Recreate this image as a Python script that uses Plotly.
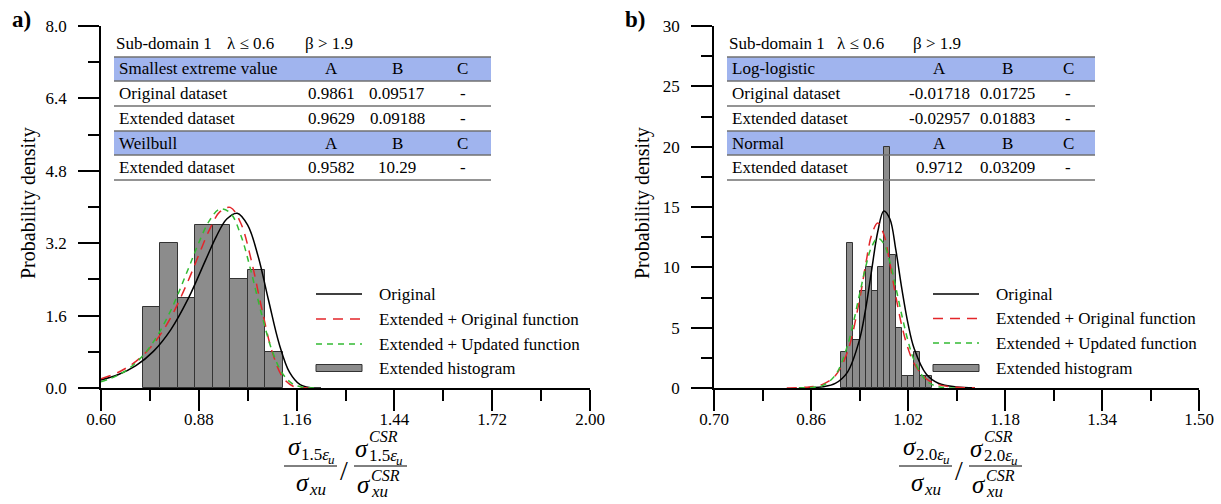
import plotly.graph_objects as go

W, H = 1221, 504
FONT = "Liberation Serif"

# ---------------- Panel a data ----------------
a_bin_centers = [0.745, 0.795, 0.845, 0.895, 0.945, 0.995, 1.045, 1.095]
a_bin_width = 0.05
a_hist_density = [1.8, 3.2, 2.0, 3.6, 3.6, 2.4, 2.6, 0.8]

a_orig_x = [0.60, 0.65, 0.70, 0.75, 0.80, 0.85, 0.90, 0.93, 0.96, 0.99, 1.02, 1.05, 1.08, 1.11, 1.14, 1.17, 1.20, 1.23]
a_orig_y = [0.179, 0.299, 0.495, 0.809, 1.291, 1.979, 2.837, 3.347, 3.735, 3.862, 3.598, 2.906, 1.928, 0.978, 0.343, 0.073, 0.008, 0.0]

a_extorig_x = [0.60, 0.65, 0.70, 0.75, 0.80, 0.85, 0.88, 0.91, 0.94, 0.97, 1.00, 1.03, 1.06, 1.09, 1.12, 1.15, 1.18, 1.21]
a_extorig_y = [0.206, 0.349, 0.588, 0.972, 1.560, 2.377, 2.943, 3.488, 3.891, 3.992, 3.646, 2.833, 1.763, 0.804, 0.239, 0.039, 0.003, 0.0]

a_extupd_x = [0.60, 0.65, 0.70, 0.75, 0.80, 0.85, 0.88, 0.91, 0.94, 0.97, 1.00, 1.03, 1.06, 1.09, 1.12, 1.15, 1.18, 1.21]
a_extupd_y = [0.138, 0.287, 0.558, 1.018, 1.718, 2.636, 3.211, 3.693, 3.954, 3.870, 3.383, 2.565, 1.625, 0.823, 0.314, 0.085, 0.015, 0.001]

a_xticks = [0.60, 0.88, 1.16, 1.44, 1.72, 2.00]
a_xminor = [0.74, 1.02, 1.30, 1.58, 1.86]
a_yticks = [0.0, 1.6, 3.2, 4.8, 6.4, 8.0]
a_yminor = [0.8, 2.4, 4.0, 5.6, 7.2]

a_table_title = ["Sub-domain 1", "λ ≤ 0.6", "β > 1.9"]
a_table_rows = [
    ["Smallest extreme value", "A", "B", "C"],
    ["Original dataset", "0.9861", "0.09517", "-"],
    ["Extended dataset", "0.9629", "0.09188", "-"],
    ["Weilbull", "A", "B", "C"],
    ["Extended dataset", "0.9582", "10.29", "-"],
]

# ---------------- Panel b data ----------------
b_bin_centers = [0.915, 0.925, 0.935, 0.945, 0.955, 0.965, 0.975, 0.985, 0.995, 1.005, 1.015, 1.025, 1.035, 1.045, 1.055]
b_bin_width = 0.01
b_hist_density = [3, 12, 4, 8, 10, 8, 10, 20, 11, 5, 1, 1, 3, 1, 1]

b_orig_x = [0.84, 0.86, 0.88, 0.90, 0.92, 0.94, 0.95, 0.96, 0.97, 0.98, 0.99, 1.00, 1.01, 1.02, 1.03, 1.05, 1.07, 1.10, 1.13]
b_orig_y = [0.005, 0.03, 0.107, 0.383, 1.301, 4.000, 6.518, 9.755, 12.929, 14.676, 14.031, 11.419, 8.167, 5.337, 3.293, 1.155, 0.390, 0.077, 0.016]

b_extorig_x = [0.82, 0.85, 0.88, 0.90, 0.92, 0.94, 0.95, 0.96, 0.97, 0.98, 0.99, 1.00, 1.01, 1.02, 1.03, 1.05, 1.07, 1.10, 1.13]
b_extorig_y = [0.008, 0.054, 0.323, 1.017, 2.963, 7.298, 10.192, 12.679, 13.679, 12.742, 10.367, 7.569, 5.116, 3.288, 2.050, 0.764, 0.281, 0.063, 0.015]

b_extupd_x = [0.84, 0.86, 0.88, 0.90, 0.92, 0.94, 0.95, 0.96, 0.97, 0.98, 0.99, 1.00, 1.01, 1.02, 1.03, 1.05, 1.07, 1.10]
b_extupd_y = [0.004, 0.04, 0.219, 1.061, 3.482, 7.749, 9.995, 11.697, 12.423, 11.973, 10.472, 8.311, 5.986, 3.912, 2.320, 0.610, 0.109, 0.004]

b_xticks = [0.70, 0.86, 1.02, 1.18, 1.34, 1.50]
b_xminor = [0.78, 0.94, 1.10, 1.26, 1.42]
b_yticks = [0, 5, 10, 15, 20, 25, 30]
b_yminor = [2.5, 7.5, 12.5, 17.5, 22.5, 27.5]

b_table_title = ["Sub-domain 1", "λ ≤ 0.6", "β > 1.9"]
b_table_rows = [
    ["Log-logistic", "A", "B", "C"],
    ["Original dataset", "-0.01718", "0.01725", "-"],
    ["Extended dataset", "-0.02957", "0.01883", "-"],
    ["Normal", "A", "B", "C"],
    ["Extended dataset", "0.9712", "0.03209", "-"],
]

legend_labels = ["Original", "Extended + Original function", "Extended + Updated function", "Extended histogram"]

# ---------------- styles ----------------
BAR_FILL = "#8c8c8c"
BAR_EDGE = "#333333"
C_ORIG = "black"
C_RED = "#e3262a"
C_GREEN = "#33bb33"
DASH_RED = "10px,7px"
DASH_GREEN = "6px,5px"
BLUE = "#a0b4ee"
RULE = "#707070"


def px(x):
    return x / W


def py(y):
    return 1 - y / H


fig = go.Figure()

panels = [
    dict(xa="x", ya="y", centers=a_bin_centers, bw=a_bin_width, dens=a_hist_density,
         curves=[(a_orig_x, a_orig_y), (a_extorig_x, a_extorig_y), (a_extupd_x, a_extupd_y)]),
    dict(xa="x2", ya="y2", centers=b_bin_centers, bw=b_bin_width, dens=b_hist_density,
         curves=[(b_orig_x, b_orig_y), (b_extorig_x, b_extorig_y), (b_extupd_x, b_extupd_y)]),
]

for p in panels:
    fig.add_trace(go.Bar(x=p["centers"], y=p["dens"], width=p["bw"], xaxis=p["xa"], yaxis=p["ya"],
                         marker=dict(color=BAR_FILL, line=dict(color=BAR_EDGE, width=1)),
                         name=legend_labels[3], showlegend=False))
    styles = [dict(color=C_ORIG, width=1.5),
              dict(color=C_RED, width=1.5, dash=DASH_RED),
              dict(color=C_GREEN, width=1.5, dash=DASH_GREEN)]
    for (cx, cy), st, nm in zip(p["curves"], styles, legend_labels[:3]):
        fig.add_trace(go.Scatter(x=cx, y=cy, mode="lines", line=dict(shape="spline", smoothing=1.0, **st),
                                 xaxis=p["xa"], yaxis=p["ya"], name=nm, showlegend=False))

tickfont = dict(family=FONT, size=17, color="black")


def axis_cfg(rng, ticks, minor, fmt, standoff):
    return dict(range=rng, tickmode="array", tickvals=ticks,
                ticktext=[format(t, fmt) for t in ticks],
                ticks="outside", ticklen=21, tickwidth=1.5, tickcolor="black",
                showline=True, linecolor="black", linewidth=1.5, showgrid=False, zeroline=False,
                tickfont=tickfont, ticklabelstandoff=standoff, automargin=False,
                minor=dict(tickmode="array", tickvals=minor, ticks="outside", ticklen=11,
                           tickwidth=1.5, tickcolor="black", showgrid=False))


ydom = [py(388), py(26)]
fig.update_layout(
    width=W, height=H, margin=dict(l=0, r=0, t=0, b=0, autoexpand=False),
    paper_bgcolor="white", plot_bgcolor="white", showlegend=False, bargap=0,
    font=dict(family=FONT, size=17, color="black"),
    xaxis=dict(anchor="y", domain=[px(101), px(590)], **axis_cfg([0.60, 2.00], a_xticks, a_xminor, ".2f", -6)),
    yaxis=dict(anchor="x", domain=ydom, **axis_cfg([0, 8.0], a_yticks, a_yminor, ".1f", 8)),
    xaxis2=dict(anchor="y2", domain=[px(714), px(1199)], **axis_cfg([0.70, 1.50], b_xticks, b_xminor, ".2f", -6)),
    yaxis2=dict(anchor="x2", domain=ydom, **axis_cfg([0, 30], b_yticks, b_yminor, "d", 8)),
)

annotations = []
shapes = []


def text(x, y, s, size=17, anchor="left", **kw):
    annotations.append(dict(x=px(x), y=py(y), xref="paper", yref="paper", text=s, showarrow=False,
                            xanchor=anchor, yanchor="middle", borderpad=0,
                            font=dict(family=FONT, size=size, color="black"), **kw))


def hline(x0, x1, y, color, width, dash=None):
    ln = dict(color=color, width=width)
    if dash:
        ln["dash"] = dash
    shapes.append(dict(type="line", xref="paper", yref="paper", x0=px(x0), x1=px(x1), y0=py(y), y1=py(y),
                       line=ln))


# panel tags and y titles
for off, tag in [(0, "a)"), (614, "b)")]:
    text(21 + off, 20, "<b>%s</b>" % tag, size=23, anchor="center")
    text(28 + off, 203, "Probability density", size=20, anchor="center", textangle=-90)


# tables
def table(x0, x1, title, rows, title_x, label_x, col_x):
    row_y = [57, 81, 106, 131, 155, 180]
    for i, r in enumerate(rows):
        top, bot = row_y[i], row_y[i + 1]
        if r[1] == "A":
            shapes.append(dict(type="rect", xref="paper", yref="paper", x0=px(x0), x1=px(x1),
                               y0=py(bot), y1=py(top), fillcolor=BLUE, line=dict(width=0), layer="below"))
        yc = (top + bot) / 2
        text(label_x, yc, r[0])
        for cx, s in zip(col_x, r[1:]):
            text(cx, yc, s, anchor="center")
    for y in row_y:
        hline(x0, x1, y, RULE, 1.5)
    for tx, s in zip(title_x, title):
        text(tx, 43, s)


table(114, 491, a_table_title, a_table_rows, [115, 226, 304], 118, [331, 397, 463])
table(727, 1095, b_table_title, b_table_rows, [728, 836, 912], 731, [939, 1008, 1068])

# legends
for lx0, tx, rows in [(316, 378, [294, 319, 344, 368]), (933, 995, [294, 318.5, 343, 368])]:
    lx1 = lx0 + 46
    hline(lx0, lx1, rows[0], C_ORIG, 1.5)
    hline(lx0, lx1, rows[1], C_RED, 1.5, DASH_RED)
    hline(lx0, lx1, rows[2], C_GREEN, 1.5, DASH_GREEN)
    shapes.append(dict(type="rect", xref="paper", yref="paper", x0=px(lx0), x1=px(lx1), y0=py(rows[3] + 3.5),
                       y1=py(rows[3] - 3.5), fillcolor=BAR_FILL, line=dict(color=BAR_EDGE, width=1)))
    for yy, lab in zip(rows, legend_labels):
        text(tx, yy, lab)


# x-axis titles (fractions built from pieces)
def xtitle(off, sub):
    sig = "<i>σ</i>"
    # left fraction
    text(287 + off, 446, sig, size=25)
    text(300 + off, 454, sub + "<i>ε</i>", size=17)
    text(327 + off, 459, "<i>u</i>", size=13)
    hline(284 + off, 337 + off, 466, "black", 1)
    text(295 + off, 482, sig, size=25)
    text(308 + off, 489, "<i>xu</i>", size=17)
    # slash
    text(344 + off, 470, "/", size=28, anchor="center")
    # right fraction
    text(354 + off, 448, sig, size=25)
    text(368 + off, 436, "<i>CSR</i>", size=16)
    text(368 + off, 455, sub + "<i>ε</i>", size=17)
    text(395 + off, 460, "<i>u</i>", size=13)
    hline(354 + off, 407 + off, 466, "black", 1)
    text(356 + off, 484, sig, size=25)
    text(370 + off, 475, "<i>CSR</i>", size=16)
    text(370 + off, 491, "<i>xu</i>", size=17)


xtitle(0, "1.5")
xtitle(615, "2.0")

fig.update_layout(annotations=annotations, shapes=shapes)
fig.write_html("out.html")
